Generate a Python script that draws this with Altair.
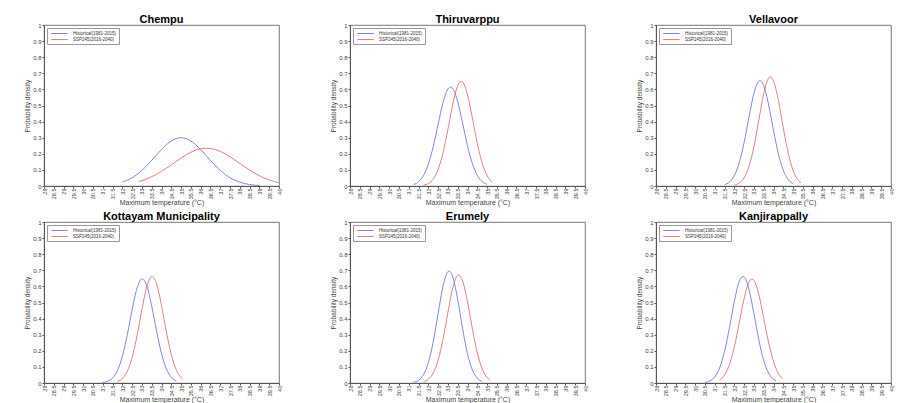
import altair as alt
import pandas as pd

# ---------------- data ----------------
locations = ["Chempu", "Thiruvarppu", "Vellavoor",
             "Kottayam Municipality", "Erumely", "Kanjirappally"]
series_names = ["Historical(1981-2015)", "SSP245(2016-2040)"]

x_ticks = [28, 28.5, 29, 29.5, 30, 30.5, 31, 31.5, 32, 32.5, 33, 33.5, 34,
           34.5, 35, 35.5, 36, 36.5, 37, 37.5, 38, 38.5, 39, 39.5, 40]
y_ticks = [0, 0.1, 0.2, 0.3, 0.4, 0.5, 0.6, 0.7, 0.8, 0.9, 1]

# Chempu
chempu_hist_x = [32.0, 32.5, 33.0, 33.5, 34.0, 34.5, 35.0, 35.5, 36.0, 36.5, 37.0, 37.5, 38.0, 38.5, 39.0]
chempu_hist_y = [0.024, 0.051, 0.097, 0.159, 0.226, 0.280, 0.300, 0.280, 0.226, 0.159, 0.097, 0.051, 0.024, 0.009, 0.003]
chempu_ssp_x = [32.85, 33.0, 33.5, 34.0, 34.5, 35.0, 35.5, 36.0, 36.3, 36.5, 37.0, 37.5, 38.0, 38.5, 39.0, 39.5, 40.0]
chempu_ssp_y = [0.028, 0.033, 0.058, 0.091, 0.131, 0.174, 0.210, 0.231, 0.235, 0.233, 0.215, 0.181, 0.140, 0.099, 0.064, 0.038, 0.020]

# Thiruvarppu
thiru_hist_x = [31.25, 31.5, 31.75, 32.0, 32.25, 32.5, 32.75, 33.0, 33.13, 33.25, 33.5, 33.75, 34.0, 34.25, 34.5, 34.75, 35.0]
thiru_hist_y = [0.009, 0.026, 0.064, 0.135, 0.245, 0.384, 0.518, 0.603, 0.615, 0.605, 0.523, 0.390, 0.250, 0.139, 0.066, 0.027, 0.010]
thiru_ssp_x = [31.75, 32.0, 32.25, 32.5, 32.75, 33.0, 33.25, 33.5, 33.68, 33.75, 34.0, 34.25, 34.5, 34.75, 35.0, 35.25]
thiru_ssp_y = [0.005, 0.015, 0.043, 0.103, 0.206, 0.352, 0.509, 0.623, 0.650, 0.646, 0.567, 0.422, 0.266, 0.142, 0.065, 0.025]

# Vellavoor
vella_hist_x = [31.5, 31.75, 32.0, 32.25, 32.5, 32.75, 33.0, 33.25, 33.31, 33.5, 33.75, 34.0, 34.25, 34.5, 34.75, 35.0]
vella_hist_y = [0.008, 0.025, 0.065, 0.144, 0.270, 0.429, 0.575, 0.652, 0.655, 0.624, 0.505, 0.345, 0.199, 0.097, 0.040, 0.014]
vella_ssp_x = [32.0, 32.25, 32.5, 32.75, 33.0, 33.25, 33.5, 33.75, 33.84, 34.0, 34.25, 34.5, 34.75, 35.0, 35.25, 35.4]
vella_ssp_y = [0.005, 0.018, 0.051, 0.122, 0.244, 0.410, 0.574, 0.670, 0.678, 0.653, 0.532, 0.361, 0.205, 0.097, 0.038, 0.020]

# Kottayam Municipality
kotta_hist_x = [31.0, 31.25, 31.5, 31.75, 32.0, 32.25, 32.5, 32.75, 33.0, 33.25, 33.5, 33.75, 34.0, 34.25, 34.5, 34.75]
kotta_hist_y = [0.003, 0.010, 0.031, 0.077, 0.165, 0.297, 0.454, 0.589, 0.647, 0.604, 0.478, 0.321, 0.183, 0.088, 0.036, 0.013]
kotta_ssp_x = [31.75, 32.0, 32.25, 32.5, 32.75, 33.0, 33.25, 33.5, 33.75, 34.0, 34.25, 34.5, 34.75, 35.0, 35.08]
kotta_ssp_y = [0.009, 0.028, 0.072, 0.158, 0.293, 0.456, 0.599, 0.661, 0.616, 0.482, 0.318, 0.177, 0.083, 0.033, 0.023]

# Erumely
erum_hist_x = [31.25, 31.5, 31.75, 32.0, 32.25, 32.5, 32.75, 33.0, 33.06, 33.25, 33.5, 33.75, 34.0, 34.25, 34.5, 34.75]
erum_hist_y = [0.005, 0.017, 0.051, 0.126, 0.256, 0.432, 0.601, 0.692, 0.696, 0.658, 0.518, 0.337, 0.181, 0.081, 0.030, 0.009]
erum_ssp_x = [31.75, 32.0, 32.25, 32.5, 32.75, 33.0, 33.25, 33.5, 33.55, 33.75, 34.0, 34.25, 34.5, 34.75, 35.0, 35.16]
erum_ssp_y = [0.007, 0.023, 0.062, 0.141, 0.272, 0.438, 0.591, 0.669, 0.671, 0.634, 0.504, 0.336, 0.187, 0.088, 0.034, 0.017]

# Kanjirappally
kanj_hist_x = [30.5, 30.75, 31.0, 31.25, 31.5, 31.75, 32.0, 32.25, 32.44, 32.5, 32.75, 33.0, 33.25, 33.5, 33.75, 34.0, 34.13]
kanj_hist_y = [0.004, 0.013, 0.038, 0.094, 0.196, 0.343, 0.507, 0.630, 0.662, 0.659, 0.580, 0.430, 0.268, 0.140, 0.062, 0.023, 0.013]
kanj_ssp_x = [31.25, 31.5, 31.75, 32.0, 32.25, 32.5, 32.75, 32.9, 33.0, 33.25, 33.5, 33.75, 34.0, 34.25, 34.47]
kanj_ssp_y = [0.018, 0.050, 0.114, 0.224, 0.372, 0.524, 0.627, 0.646, 0.638, 0.550, 0.403, 0.251, 0.133, 0.059, 0.026]

curves = {
    "Chempu": [(chempu_hist_x, chempu_hist_y), (chempu_ssp_x, chempu_ssp_y)],
    "Thiruvarppu": [(thiru_hist_x, thiru_hist_y), (thiru_ssp_x, thiru_ssp_y)],
    "Vellavoor": [(vella_hist_x, vella_hist_y), (vella_ssp_x, vella_ssp_y)],
    "Kottayam Municipality": [(kotta_hist_x, kotta_hist_y), (kotta_ssp_x, kotta_ssp_y)],
    "Erumely": [(erum_hist_x, erum_hist_y), (erum_ssp_x, erum_ssp_y)],
    "Kanjirappally": [(kanj_hist_x, kanj_hist_y), (kanj_ssp_x, kanj_ssp_y)],
}

colors = ["#6565d6", "#d46262"]
FONT = "Liberation Sans"
AXIS_GREY = "#444444"


def panel(loc):
    rows = []
    for s_name, (xs, ys) in zip(series_names, curves[loc]):
        for xv, yv in zip(xs, ys):
            rows.append({"series": s_name, "x": xv, "y": yv})
    df = pd.DataFrame(rows)
    return alt.Chart(df).mark_line(strokeWidth=0.8, interpolate="monotone").encode(
        x=alt.X("x:Q",
                scale=alt.Scale(domain=[28, 40], nice=False, zero=False),
                axis=alt.Axis(values=x_ticks, format="~g", labelAngle=270,
                              title="Maximum temperature (°C)", grid=False,
                              titleColor=AXIS_GREY, titleFontSize=7,
                              labelFontSize=5.5, labelPadding=0,
                              titlePadding=0)),
        y=alt.Y("y:Q",
                scale=alt.Scale(domain=[0, 1], nice=False),
                axis=alt.Axis(values=y_ticks, format="~g",
                              title="Probability density", grid=False,
                              titleColor=AXIS_GREY)),
        color=alt.Color("series:N",
                        scale=alt.Scale(domain=series_names, range=colors),
                        legend=alt.Legend(title=None, orient="top-left")),
        detail="series:N",
    ).properties(width=235, height=161,
                 title=alt.TitleParams(loc, fontSize=11, font=FONT,
                                       fontWeight="bold", color="#000",
                                       offset=-3))


row1 = alt.hconcat(*[panel(l) for l in locations[:3]],
                   spacing=47).resolve_scale(color="independent")
row2 = alt.hconcat(*[panel(l) for l in locations[3:]],
                   spacing=47).resolve_scale(color="independent")

chart = alt.vconcat(row1, row2, spacing=3).resolve_scale(
    color="independent"
).properties(
    padding={"left": 16, "top": 5, "right": 0, "bottom": 0},
    background="white",
).configure_view(
    stroke="#555", strokeWidth=0.8
).configure_axis(
    labelFont=FONT, titleFont=FONT, labelFontSize=6, titleFontSize=6.5,
    labelColor=AXIS_GREY, titleColor=AXIS_GREY, domainColor="#555",
    tickColor="#555", tickSize=2, titleFontWeight="normal",
    labelPadding=1, titlePadding=2,
).configure_legend(
    labelFont=FONT, labelFontSize=4.5, labelColor="#333",
    symbolType="M-3,0L3,0", symbolSize=30, symbolStrokeWidth=0.8,
    symbolOffset=7, labelOffset=10,
    strokeColor="#999", fillColor="white", padding=2, rowPadding=0,
    offset=3, labelLimit=200,
)

chart.save("out.html", embed_options={"renderer": "svg", "actions": False})
